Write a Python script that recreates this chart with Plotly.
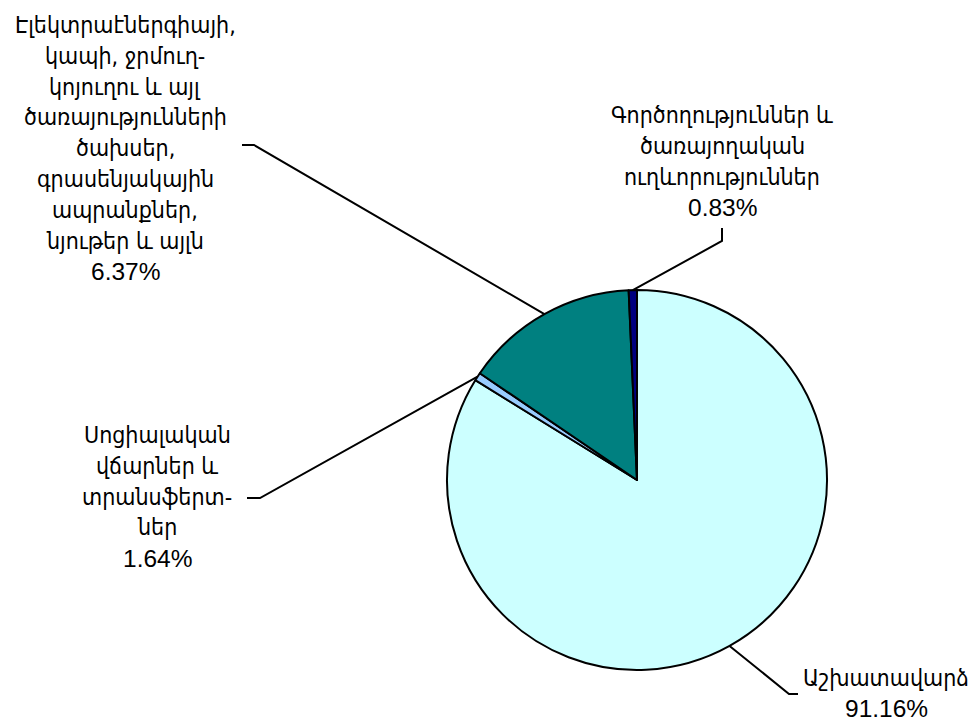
import math
import plotly.graph_objects as go

# ---- data ----
categories = [
    "Աշխատավարձ",
    "Սոցիալական վճարներ և տրանսֆերտներ",
    "Էլեկտրաէներգիայի, կապի, ջրմուղ-կոյուղու և այլ ծառայությունների ծախսեր, գրասենյակային ապրանքներ, նյութեր և այլն",
    "Գործողություններ և ծառայողական ուղևորություններ",
]
# slice sizes as drawn in the picture (share of the circle, in %)
slice_shares = [83.8, 0.7, 14.8, 0.7]
# percentages printed on the labels
label_pcts = ["91.16%", "1.64%", "6.37%", "0.83%"]
label_lines = [
    ["Աշխատավարձ"],
    ["Սոցիալական", "վճարներ և", "տրանսֆերտ-", "ներ"],
    ["Էլեկտրաէներգիայի,", "կապի, ջրմուղ-", "կոյուղու և այլ", "ծառայությունների",
     "ծախսեր,", "գրասենյակային", "ապրանքներ,", "նյութեր և այլն"],
    ["Գործողություններ և", "ծառայողական", "ուղևորություններ"],
]
colors = ["#CCFFFF", "#99CCFF", "#008080", "#000080"]

# ---- layout constants (viewport pixels) ----
VW, VH = 977, 726
OFF = 8                       # default page body margin
W, H = VW - OFF, VH - OFF     # figure size so it fits the viewport
CX, CY, R = 637, 480, 190
FONT_NUM = "Liberation Sans, Arial, sans-serif"
FONT_ARM = "DejaVu Sans Condensed, DejaVu Sans, sans-serif"
FS_NUM = 24.5
FS_ARM = 23
LINE_SP = 30.8
# label block: centre x, first-line y
label_pos = [(886, 678), (157, 435), (125, 25), (722, 115)]
# leader lines: start point next to text, elbow point
leader_pts = [((798, 694), (789, 694)),
              ((247, 498), (260, 498)),
              ((242, 145), (254, 145)),
              ((722, 228), (722, 241))]


def px(x):
    return (x - OFF) / W


def py(y):
    return 1 - (y - OFF) / H


fig = go.Figure(go.Pie(
    labels=categories,
    values=slice_shares,
    sort=False,
    direction="clockwise",
    rotation=0,
    textinfo="none",
    hoverinfo="skip",
    showlegend=False,
    marker=dict(colors=colors, line=dict(color="black", width=2)),
    domain=dict(x=[px(CX - R), px(CX + R)], y=[py(CY + R), py(CY - R)]),
))

# slice mid-angles (clockwise from 12 o'clock) computed from the data
total = sum(slice_shares)
cum = 0
annotations = []
shapes = []
for i, v in enumerate(slice_shares):
    mid = (cum + v / 2) / total * 2 * math.pi
    cum += v
    ex = CX + R * math.sin(mid)
    ey = CY - R * math.cos(mid)
    (sx, sy), (bx, by) = leader_pts[i]
    path = f"M {px(sx)} {py(sy)} L {px(bx)} {py(by)} L {px(ex)} {py(ey)}"
    shapes.append(dict(type="path", path=path, xref="paper", yref="paper",
                       line=dict(color="black", width=2)))
    lx, ly = label_pos[i]
    lines = label_lines[i] + [label_pcts[i]]
    for k, t in enumerate(lines):
        is_num = k == len(lines) - 1
        annotations.append(dict(
            x=px(lx), y=py(ly + k * LINE_SP), xref="paper", yref="paper",
            text=t, showarrow=False, xanchor="center", yanchor="middle",
            font=dict(family=FONT_NUM if is_num else FONT_ARM,
                      size=FS_NUM if is_num else FS_ARM, color="black"),
        ))

fig.update_layout(
    width=W, height=H,
    margin=dict(l=0, r=0, t=0, b=0),
    paper_bgcolor="white",
    plot_bgcolor="white",
    annotations=annotations,
    shapes=shapes,
)

fig.write_html("out.html")
